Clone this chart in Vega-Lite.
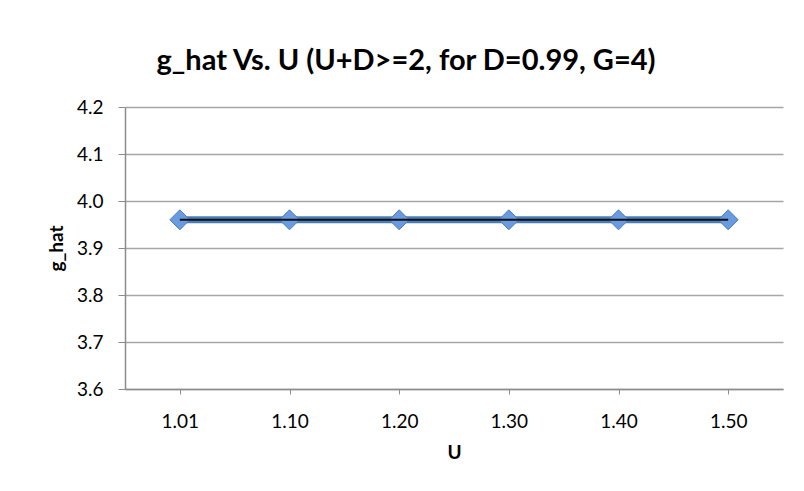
{
  "$schema": "https://vega.github.io/schema/vega-lite/v6.json",
  "autosize": {"type": "none"},
  "width": 658,
  "height": 282,
  "padding": {"left": 125, "top": 107, "right": 21, "bottom": 102},
  "background": "white",
  "title": {
    "text": "g_hat Vs. U (U+D>=2, for D=0.99, G=4)",
    "font": "Lato",
    "fontSize": 29,
    "fontWeight": "bold",
    "color": "#000000",
    "anchor": "middle",
    "offset": 22,
    "dx": -48
  },
  "config": {
    "view": {"stroke": null},
    "font": "Lato"
  },
  "data": {
    "values": [
      {"U": "1.01", "g_hat": 3.96},
      {"U": "1.10", "g_hat": 3.96},
      {"U": "1.20", "g_hat": 3.96},
      {"U": "1.30", "g_hat": 3.96},
      {"U": "1.40", "g_hat": 3.96},
      {"U": "1.50", "g_hat": 3.96}
    ]
  },
  "encoding": {
    "x": {
      "field": "U",
      "type": "ordinal",
      "sort": null,
      "scale": {"type": "point", "padding": 0.5},
      "axis": {
        "title": "U",
        "titleFont": "Lato",
        "titleFontSize": 19,
        "titleFontWeight": "bold",
        "titleColor": "#000000",
        "titlePadding": 12,
        "labelAngle": 0,
        "labelFont": "Lato",
        "labelFontSize": 19,
        "labelColor": "#000000",
        "labelPadding": 18,
        "domainColor": "#8c8c8c",
        "domainWidth": 1.5,
        "tickColor": "#8c8c8c",
        "tickSize": 5,
        "grid": false
      }
    },
    "y": {
      "field": "g_hat",
      "type": "quantitative",
      "scale": {"domain": [3.6, 4.2], "nice": false, "zero": false},
      "axis": {
        "title": "g_hat",
        "titleFont": "Lato",
        "titleFontSize": 19,
        "titleFontWeight": "bold",
        "titleColor": "#000000",
        "titlePadding": 10,
        "values": [3.6, 3.7, 3.8, 3.9, 4.0, 4.1, 4.2],
        "format": ".1f",
        "labelFont": "Lato",
        "labelFontSize": 19,
        "labelColor": "#000000",
        "labelPadding": 15,
        "domainColor": "#8c8c8c",
        "domainWidth": 1.5,
        "tickColor": "#8c8c8c",
        "tickSize": 7,
        "gridColor": "#a6a6a6",
        "gridWidth": 1.5
      }
    }
  },
  "layer": [
    {
      "mark": {"type": "line", "color": "#4a7ebb", "strokeWidth": 7}
    },
    {
      "mark": {"type": "point", "shape": "diamond", "filled": true, "size": 400, "color": "#6a9ae0", "stroke": "#4a7ebb", "strokeWidth": 1, "opacity": 1}
    },
    {
      "mark": {"type": "line", "color": "#111111", "strokeWidth": 2}
    }
  ]
}
